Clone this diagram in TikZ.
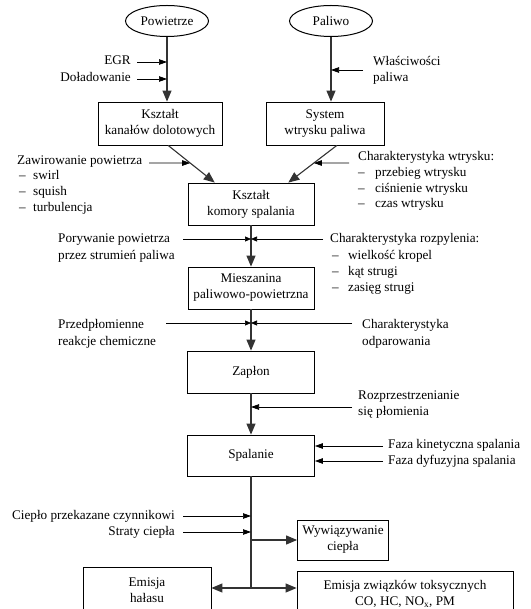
\documentclass[tikz,border=0pt]{standalone}
\usepackage{fontspec}
\setmainfont{LiberationSerif}[Extension=.ttf, UprightFont=*-Regular, BoldFont=*-Bold, ItalicFont=*-Italic]
\usetikzlibrary{arrows.meta,shapes.geometric,calc}
\begin{document}
\begin{tikzpicture}[x=1pt,y=-1pt,
  font=\rmfamily\fontsize{13.2}{16}\selectfont,
  box/.style={draw, line width=0.8pt, minimum height=42pt, align=center, inner sep=0pt},
  ell/.style={ellipse, draw, line width=1pt, minimum width=83pt, minimum height=31pt, inner sep=0pt},
  mainln/.style={line width=1.1pt, draw=black!80},
  mainarr/.style={mainln, -{Triangle[length=11pt,width=9pt]}},
  inp/.style={line width=0.7pt, -{Triangle[length=8pt,width=5.5pt]}},
  lbl/.style={inner sep=0pt, text height=9pt, text depth=3pt},
]
\useasboundingbox (0,0) rectangle (530,609);
\clip (0,0) rectangle (530,609);

% main nodes
\node[ell] (pow) at (167,21) {Powietrze};
\node[ell] (pal) at (331,21) {Paliwo};
\node[box, minimum width=124pt, minimum height=43pt] (kan) at (160,123.5) {Kształt\\kanałów dolotowych};
\node[box, minimum width=118pt, minimum height=43pt] (sys) at (325,123.5) {System\\wtrysku paliwa};
\node[box, minimum width=126pt] (kom) at (251,204) {Kształt\\komory spalania};
\node[box, minimum width=126pt] (mie) at (251,288) {Mieszanina\\paliwowo-powietrzna};
\node[box, minimum width=127pt] (zap) at (251,372) {Zapłon};
\node[box, minimum width=127pt, minimum height=41pt] (spa) at (251,455.5) {Spalanie};
\node[box, minimum width=91pt, minimum height=40pt] (wyw) at (343,540) {Wywiązywanie\\ciepła};
\node[box, minimum width=128pt, minimum height=46pt] (hal) at (147,590) {Emisja\\hałasu};
\node[box, minimum width=216pt, minimum height=46pt] (tox) at (405,594) {Emisja związków toksycznych\\CO, HC, NO\textsubscript{x}, PM};

% labels
\node[lbl, anchor=east] (egr) at (131,62) {EGR};
\node[lbl, anchor=east] (dol) at (131,79) {Doładowanie};
\node[lbl, anchor=west] (wla1) at (373,63) {Właściwości};
\node[lbl, anchor=west] (wla2) at (373,79) {paliwa};

\node[lbl, anchor=west] (zaw) at (17,162) {Zawirowanie powietrza};
\node[lbl, anchor=west] (zaw1) at (19,177) {\makebox[14pt][l]{–}swirl};
\node[lbl, anchor=west] (zaw2) at (19,193) {\makebox[14pt][l]{–}squish};
\node[lbl, anchor=west] (zaw3) at (19,209) {\makebox[14pt][l]{–}turbulencja};

\node[lbl, anchor=west] (chw) at (358,158) {Charakterystyka wtrysku:};
\node[lbl, anchor=west] (chw1) at (358,174) {\makebox[17pt][l]{–}przebieg wtrysku};
\node[lbl, anchor=west] (chw2) at (358,190) {\makebox[17pt][l]{–}ciśnienie wtrysku};
\node[lbl, anchor=west] (chw3) at (358,205) {\makebox[17pt][l]{–}czas wtrysku};

\node[lbl, anchor=west] (por1) at (58,239) {Porywanie powietrza};
\node[lbl, anchor=west] (por2) at (58,256) {przez strumień paliwa};

\node[lbl, anchor=west] (roz) at (330,239) {Charakterystyka rozpylenia:};
\node[lbl, anchor=west] (roz1) at (332,256) {\makebox[16pt][l]{–}wielkość kropel};
\node[lbl, anchor=west] (roz2) at (332,272) {\makebox[16pt][l]{–}kąt strugi};
\node[lbl, anchor=west] (roz3) at (332,288) {\makebox[16pt][l]{–}zasięg strugi};

\node[lbl, anchor=west] (prz1) at (58,325) {Przedpłomienne};
\node[lbl, anchor=west] (prz2) at (58,342) {reakcje chemiczne};
\node[lbl, anchor=west] (odp1) at (362,325) {Charakterystyka};
\node[lbl, anchor=west] (odp2) at (362,342) {odparowania};

\node[lbl, anchor=west] (rpz1) at (358,396) {Rozprzestrzenianie};
\node[lbl, anchor=west] (rpz2) at (358,412) {się płomienia};

\node[lbl, anchor=west] (fk) at (388,445) {Faza kinetyczna spalania};
\node[lbl, anchor=west] (fd) at (388,461) {Faza dyfuzyjna spalania};

\node[lbl, anchor=east] (cp) at (175,516) {Ciepło przekazane czynnikowi};
\node[lbl, anchor=east] (sc) at (175,532) {Straty ciepła};

% main flow
\draw[mainarr] (pow.south) -- (pow.south |- kan.north);
\draw[mainarr] (pal.south) -- (pal.south |- sys.north);
\coordinate (d1s) at ($(kan.south west)!0.565!(kan.south east)$);
\coordinate (d1e) at ($(kom.north west)!0.214!(kom.north east)$);
\coordinate (d2s) at ($(sys.south west)!0.60!(sys.south east)$);
\coordinate (d2e) at ($(kom.north west)!0.794!(kom.north east)$);
\draw[mainarr] (d1s) -- (d1e);
\draw[mainarr] (d2s) -- (d2e);
\draw[mainarr] (kom.south) -- (mie.north);
\draw[mainarr] (mie.south) -- (zap.north);
\draw[mainarr] (zap.south) -- (spa.north);
\coordinate (jb) at (251,588);
\draw[mainln] (spa.south) -- (jb);
\draw[mainarr] (wyw.west -| jb) -- (wyw.west);
\draw[mainarr] (jb) -- (jb -| hal.east);
\draw[mainarr] (jb) -- (jb -| tox.west);

% inputs
\coordinate (egrS) at (137,62);
\coordinate (dolS) at (137,79);
\draw[inp] (egrS) -- (egrS -| pow.south);
\draw[inp] (dolS) -- (dolS -| pow.south);
\coordinate (wlaS) at (363,70);
\draw[inp] (wlaS) -- (wlaS -| pal.south);

\coordinate (zawS) at (149,163);
\draw[inp] (zawS) -- ($(d1s)!0.474!(d1e)$);
\coordinate (chwS) at (349,163);
\draw[inp] (chwS) -- ($(d2s)!0.474!(d2e)$);

\coordinate (j1) at (251,239);
\coordinate (a1) at (183,239);
\coordinate (b1) at (323,239);
\draw[inp, -{Triangle[length=6pt,width=5pt]}] (a1) -- (j1);
\draw[inp, -{Triangle[length=6pt,width=5pt]}] (b1) -- (j1);

\coordinate (j2) at (251,323);
\coordinate (a2) at (166,323);
\coordinate (b2) at (352,323);
\draw[inp, -{Triangle[length=6pt,width=5pt]}] (a2) -- (j2);
\draw[inp, -{Triangle[length=6pt,width=5pt]}] (b2) -- (j2);

\coordinate (rS) at (352,407);
\draw[inp] (rS) -- (rS -| jb);

\coordinate (fkS) at (383,446);
\coordinate (fdS) at (383,461);
\draw[inp] (fkS) -- (fkS -| spa.east);
\draw[inp] (fdS) -- (fdS -| spa.east);

\coordinate (cpS) at (183,516);
\coordinate (scS) at (183,532);
\draw[inp] (cpS) -- (cpS -| jb);
\draw[inp] (scS) -- (scS -| jb);
\end{tikzpicture}
\end{document}
